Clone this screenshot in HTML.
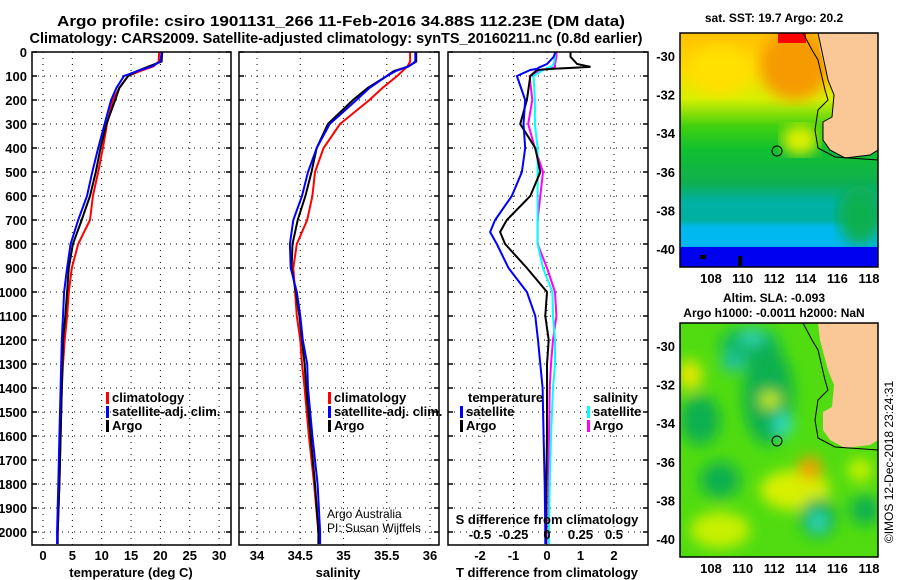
<!DOCTYPE html>
<html><head><meta charset="utf-8"><style>
body{margin:0;background:#fff;}
svg{display:block;font-family:"Liberation Sans",sans-serif;font-weight:bold;}
</style></head><body>
<svg id="c" width="900" height="580" viewBox="0 0 900 580">
<defs>
<linearGradient id="sst" x1="0" y1="0" x2="0" y2="1">
<stop offset="0" stop-color="#ffc000"/><stop offset="0.15" stop-color="#ffd800"/><stop offset="0.28" stop-color="#d8f000"/>
<stop offset="0.4" stop-color="#40d010"/><stop offset="0.5" stop-color="#10c030"/><stop offset="0.64" stop-color="#10b050"/>
<stop offset="0.72" stop-color="#00b0a0"/><stop offset="0.8" stop-color="#00c0e0"/><stop offset="0.9" stop-color="#00b8f8"/><stop offset="0.92" stop-color="#0000f0"/><stop offset="1" stop-color="#0000e8"/>
</linearGradient>
<filter id="blur"><feGaussianBlur stdDeviation="7"/></filter>
<filter id="blur3"><feGaussianBlur stdDeviation="3"/></filter>
<clipPath id="m1c"><rect x="680" y="33" width="198" height="234"/></clipPath>
<clipPath id="m2c"><rect x="680" y="323" width="198" height="234"/></clipPath>
</defs>
<text x="341" y="26" font-size="15" text-anchor="middle" textLength="568" lengthAdjust="spacingAndGlyphs">Argo profile: csiro 1901131_266 11-Feb-2016 34.88S 112.23E (DM data)</text>
<text x="336" y="43" font-size="15" text-anchor="middle" textLength="613" lengthAdjust="spacingAndGlyphs">Climatology: CARS2009. Satellite-adjusted climatology: synTS_20160211.nc (0.8d earlier)</text>
<g id="grids"></g>
<g id="series"></g>
<g id="axes"></g>
<!-- Map 1 -->
<g>
<g clip-path="url(#m1c)">
<rect x="680" y="33" width="198" height="234" fill="url(#sst)"/>
<ellipse cx="795" cy="65" rx="35" ry="35" fill="#f59a00" filter="url(#blur)"/>
<ellipse cx="720" cy="70" rx="30" ry="25" fill="#ffe000" filter="url(#blur)"/>
<rect x="778" y="33" width="28" height="10" fill="#ff0000"/>
<ellipse cx="800" cy="140" rx="18" ry="15" fill="#e0f000" filter="url(#blur)"/>
<rect x="670" y="205" width="220" height="22" fill="#00b0a0" filter="url(#blur3)"/>
<rect x="670" y="224" width="220" height="26" fill="#00b8f0" filter="url(#blur3)"/>
<ellipse cx="860" cy="215" rx="22" ry="30" fill="#10b050" filter="url(#blur)"/>
<rect x="680" y="247" width="198" height="20" fill="#0000f0"/>
<rect x="700" y="255" width="6" height="4" fill="#000"/>
<rect x="738" y="256" width="4" height="10" fill="#000"/>
</g>
<path d="M818,33 L878,33 L878,150 L870,155 L845,158 L830,150 L823,140 L823,122 L832,117 L834,95 L828,80 L820,50 Z" fill="#fac896"/>
<path d="M803,33 L812,50 L818,60 L825,90 L828,100 L818,110 L815,130 L818,148 L835,157 L878,160" fill="none" stroke="#000" stroke-width="1"/>
<path d="M818,33 L828,80 L834,95 L832,117 L823,122 L823,140 L830,150 L845,158 L870,155 L878,150" fill="none" stroke="#000" stroke-width="1"/>
<circle cx="777" cy="151" r="5" fill="none" stroke="#000" stroke-width="1"/>
<rect x="680" y="33" width="198" height="234" fill="none" stroke="#000" stroke-width="1.5"/>
<text x="774" y="22" font-size="12" text-anchor="middle">sat. SST: 19.7 Argo: 20.2</text>
</g>
<!-- Map 2 -->
<g>
<g clip-path="url(#m2c)">
<rect x="680" y="323" width="198" height="234" fill="#50dc10"/>
<g filter="url(#blur)">
<ellipse cx="750" cy="345" rx="30" ry="18" fill="#10b860"/>
<ellipse cx="752" cy="337" rx="12" ry="8" fill="#30d0b0"/>
<ellipse cx="733" cy="362" rx="12" ry="10" fill="#20c0a0"/>
<ellipse cx="690" cy="375" rx="12" ry="15" fill="#e8e800"/>
<ellipse cx="768" cy="395" rx="25" ry="50" fill="#10b050"/>
<ellipse cx="783" cy="425" rx="10" ry="12" fill="#30d8c0"/>
<ellipse cx="770" cy="400" rx="10" ry="8" fill="#d0f000"/>
<ellipse cx="700" cy="420" rx="20" ry="25" fill="#10b050"/>
<ellipse cx="720" cy="480" rx="20" ry="18" fill="#10b050"/>
<ellipse cx="795" cy="490" rx="35" ry="20" fill="#d8f000"/>
<ellipse cx="810" cy="468" rx="12" ry="12" fill="#f0a000"/>
<ellipse cx="818" cy="518" rx="18" ry="20" fill="#10b050"/>
<ellipse cx="818" cy="522" rx="9" ry="10" fill="#30d8c0"/>
<ellipse cx="865" cy="510" rx="15" ry="15" fill="#10b050"/>
<ellipse cx="720" cy="530" rx="30" ry="18" fill="#c8f000"/>
<ellipse cx="860" cy="470" rx="12" ry="12" fill="#c8f000"/>
</g>
</g>
<path d="M818,323 L878,323 L878,440 L870,445 L845,448 L830,440 L823,430 L823,412 L832,407 L834,385 L828,370 L820,340 Z" fill="#fac896"/>
<path d="M803,323 L812,340 L818,350 L825,380 L828,390 L818,400 L815,420 L818,438 L835,447 L878,450" fill="none" stroke="#000" stroke-width="1"/>
<circle cx="777" cy="441" r="5" fill="none" stroke="#000" stroke-width="1"/>
<rect x="680" y="323" width="198" height="234" fill="none" stroke="#000" stroke-width="1.5"/>
<text x="774" y="302" font-size="12" text-anchor="middle">Altim. SLA: -0.093</text>
<text x="774" y="317" font-size="12" text-anchor="middle">Argo h1000: -0.0011 h2000: NaN</text>
</g>
<text transform="translate(893,462) rotate(-90)" font-size="12" font-weight="normal" text-anchor="middle">©IMOS 12-Dec-2018 23:24:31</text>
<text x="327" y="518" font-size="12" font-weight="normal">Argo Australia</text>
<text x="327" y="532" font-size="12" font-weight="normal">PI: Susan Wijffels</text>
</svg>
<script>
// depth (m)
const tDepthClim=[0,40,60,80,100,150,200,300,400,500,600,700,800,900,1000,1100,1200,1300,1400,1600,1800,2000,2050];
const tempClim=[19.8,19.7,18.8,16.5,14.5,13,11.9,10.9,10.2,9.4,8.5,8.0,6.0,4.9,4.4,4.1,3.7,3.4,3.2,3.0,2.8,2.5,2.4];
const tempSat=[20.2,20.0,18.5,16,13.8,12.5,11.6,10.5,9.4,8.4,7.5,6.0,4.7,4.1,3.6,3.4,3.2,3.1,3.0,2.8,2.6,2.4,2.4];
const tempArgo=[20.3,20.2,18,16,14.5,13,12.3,10.8,9.8,9.0,8.0,6.6,5.1,4.4,4.1,3.8,3.4,3.3,3.2,3.0,2.8,2.5,2.5];
const salClim=[35.77,35.77,35.74,35.68,35.62,35.45,35.3,34.96,34.77,34.67,34.64,34.58,34.46,34.42,34.44,34.46,34.5,34.52,34.55,34.6,34.66,34.71,34.72];
const salSat=[35.83,35.83,35.75,35.6,35.5,35.3,35.15,34.84,34.69,34.59,34.52,34.42,34.38,34.39,34.46,34.5,34.53,34.58,34.59,34.64,34.7,34.73,34.73];
const salArgo=[35.84,35.84,35.75,35.58,35.5,35.28,35.11,34.82,34.69,34.63,34.56,34.47,34.41,34.40,34.45,34.49,34.52,34.55,34.57,34.62,34.67,34.71,34.71];
const dDepth=[0,20,50,62,66,70,75,100,200,300,400,500,600,700,750,800,900,1000,1100,1200,1300,1400,1600,1800,2000,2050];
const dTArgo=[0.7,0.7,0.9,1.3,0.8,0.2,-0.3,-0.5,-0.6,-0.8,-0.35,-0.2,-0.5,-1.2,-1.4,-1.25,-0.6,0.0,-0.05,0.05,0,0,0,-0.02,-0.03,-0.03];
const dTSat=[0.25,0.2,0.0,-0.2,-0.25,-0.3,-0.5,-0.9,-0.65,-0.7,-0.65,-0.75,-1.05,-1.55,-1.7,-1.5,-1.15,-0.6,-0.35,-0.27,-0.2,-0.13,-0.1,-0.07,-0.05,-0.05];
const dSArgo=[0.07,0.07,0.06,0.06,0.05,0.0,-0.05,-0.13,-0.11,-0.14,-0.09,-0.03,-0.05,-0.07,-0.07,-0.07,0,0.06,0.07,0.045,0.03,0.02,0.015,0.01,0.01,0.01];
const dSSat=[0.06,0.06,0.05,0.03,0.0,0.0,-0.03,-0.1,-0.09,-0.09,-0.07,-0.07,-0.07,-0.07,-0.07,-0.07,-0.03,0.04,0.045,0.06,0.06,0.045,0.03,0.02,0.015,0.015];
const depthTicks=[0,100,200,300,400,500,600,700,800,900,1000,1100,1200,1300,1400,1500,1600,1700,1800,1900,2000];
const tempTicks=[0,5,10,15,20,25,30];
const salTicks=[34,34.5,35,35.5,36];
const salTickLabels=["34","34.5","35","35.5","36"];
const dTTicks=[-2,-1,0,1,2];
const dSTicks=[-0.5,-0.25,0,0.25,0.5];
const dSTickLabels=["-0.5","-0.25","0","0.25","0.5"];
const latTicks=[-30,-32,-34,-36,-38,-40];
const lonTicks=[108,110,112,114,116,118];

const NS='http://www.w3.org/2000/svg';
const Y0=52,YB=545;
const yD=d=>Y0+d*0.24;
const xT=v=>43+v*5.87;
const xS=v=>257+(v-34)*86.5;
const xDT=v=>547+v*33.5;
const xDS=v=>547+v*134;
const latY1=v=>56+(-30-v)*19.3;
const latY2=v=>346+(-30-v)*19.3;
const lonX=v=>711+(v-108)*15.8;
function mk(tag,attrs,parent){const e=document.createElementNS(NS,tag);for(const k in attrs)e.setAttribute(k,attrs[k]);parent.appendChild(e);return e;}
const G=document.getElementById('grids'),S=document.getElementById('series'),A=document.getElementById('axes');
const panels=[{l:32,r:231,xf:xT,ticks:tempTicks,labels:tempTicks.map(String),name:'temperature'},
 {l:239,r:439,xf:xS,ticks:salTicks,labels:salTickLabels,name:'salinity'},
 {l:448,r:648,xf:xDT,ticks:dTTicks,labels:dTTicks.map(String),name:'t-difference'}];
panels.forEach((p,i)=>{
 depthTicks.forEach(d=>{const y=yD(d);
  const gl=mk('line',{x1:p.l,x2:p.r,y1:y,y2:y,stroke:'#000','stroke-width':1,'stroke-dasharray':'1,5'},G);
  
  mk('line',{x1:p.l,x2:p.l+5,y1:y,y2:y,stroke:'#000','stroke-width':1.5},A);
  mk('line',{x1:p.r-5,x2:p.r,y1:y,y2:y,stroke:'#000','stroke-width':1.5},A);
 });
 p.ticks.forEach((t,j)=>{const x=p.xf(t);
  const gl=mk('line',{x1:x,x2:x,y1:Y0,y2:YB,stroke:'#000','stroke-width':1,'stroke-dasharray':'1,5'},G);
  
  const tx=mk('text',{x:x,y:560,'font-size':13,'text-anchor':'middle'},A);tx.textContent=p.labels[j];
  
 });
 const fr=mk('rect',{x:p.l,y:Y0,width:p.r-p.l,height:YB-Y0,fill:'none',stroke:'#000','stroke-width':1.5},A);
 
});
depthTicks.forEach(d=>{const t=mk('text',{x:27,y:yD(d)+5,'font-size':13,'text-anchor':'end'},A);t.textContent=String(d);
 });
dSTicks.forEach((v,j)=>{const t=mk('text',{x:xDS(v),y:539,'font-size':13,'text-anchor':'middle'},A);t.textContent=dSTickLabels[j];
 });
[[131,'temperature (deg C)','temperature-axis-title'],[338,'salinity','salinity-axis-title'],[547,'T difference from climatology','t-difference-axis-title']].forEach(a=>{
 const t=mk('text',{x:a[0],y:577,'font-size':13,'text-anchor':'middle'},A);t.textContent=a[1];
 });
{const t=mk('text',{x:547,y:524,'font-size':13,'text-anchor':'middle'},A);t.textContent='S difference from climatology';
 }
function line(xs,ds,xf,col,name,w){const pts=xs.map((v,i)=>xf(v).toFixed(1)+','+yD(ds[i]).toFixed(1)).join(' ');
 const pl=mk('polyline',{points:pts,fill:'none',stroke:col,'stroke-width':w||2},S);
 }
line(tempClim,tDepthClim,xT,'#f00','temperature-climatology-line');
line(tempArgo,tDepthClim,xT,'#000','temperature-argo-line');
line(tempSat,tDepthClim,xT,'#00f','temperature-satellite-line');
line(salClim,tDepthClim,xS,'#f00','salinity-climatology-line');
line(salArgo,tDepthClim,xS,'#000','salinity-argo-line');
line(salSat,tDepthClim,xS,'#00f','salinity-satellite-line');
line(dSArgo,dDepth,xDS,'#f0f','s-diff-argo-line');
line(dSSat,dDepth,xDS,'#0ff','s-diff-satellite-line');
line(dTArgo,dDepth,xDT,'#000','t-diff-argo-line');
line(dTSat,dDepth,xDT,'#00f','t-diff-satellite-line');
function leg(x,y,col,txt,name){const r=mk('rect',{x:x,y:y-10,width:3,height:12,fill:col},A);
 
 if(txt){const t=mk('text',{x:x+6,y:y,'font-size':13},A);t.textContent=txt;}}
[[106,'#f00','climatology'],[106,'#00f','satellite-adj. clim.'],[106,'#000','Argo']].forEach((l,i)=>leg(l[0],402+i*14,l[1],l[2],'legend-temp-'+i));
[[328,'#f00','climatology'],[328,'#00f','satellite-adj. clim.'],[328,'#000','Argo']].forEach((l,i)=>leg(l[0],402+i*14,l[1],l[2],'legend-sal-'+i));
{const t=mk('text',{x:468,y:402,'font-size':13},A);t.textContent='temperature';
 const u=mk('text',{x:593,y:402,'font-size':13},A);u.textContent='salinity';}
leg(460,416,'#00f','satellite','legend-tdiff-satellite');leg(460,430,'#000','Argo','legend-tdiff-argo');
leg(587,416,'#0ff','satellite','legend-sdiff-satellite');leg(587,430,'#f0f','Argo','legend-sdiff-argo');
[latY1,latY2].forEach((f,mi)=>{
 latTicks.forEach(v=>{const y=f(v);mk('line',{x1:873,x2:878,y1:y,y2:y,stroke:'#000'},A);mk('line',{x1:680,x2:685,y1:y,y2:y,stroke:'#000'},A);
  const t=mk('text',{x:675,y:y+5,'font-size':13,'text-anchor':'end'},A);t.textContent=String(v);
  });
 const yb=mi?557:267;
 lonTicks.forEach(v=>{const x=lonX(v);mk('line',{x1:x,x2:x,y1:yb-5,y2:yb,stroke:'#000'},A);mk('line',{x1:x,x2:x,y1:yb-234,y2:yb-229,stroke:'#000'},A);
  const t=mk('text',{x:x,y:yb+16,'font-size':13,'text-anchor':'middle'},A);t.textContent=String(v);
  });
});
</script>
</body></html>
